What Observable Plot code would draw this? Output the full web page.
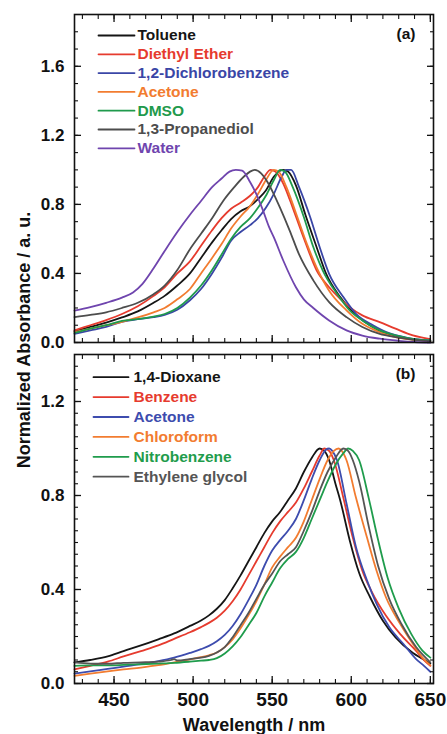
<!DOCTYPE html>
<html><head><meta charset="utf-8">
<script src="https://cdn.jsdelivr.net/npm/d3@7"></script>
<script src="https://cdn.jsdelivr.net/npm/@observablehq/plot@0.6"></script>
<style>
html,body{margin:0;padding:0;background:#fff;overflow:hidden;}
#wrap{position:relative;width:447px;height:734px;}
#ylab{position:absolute;left:-126px;top:330px;width:300px;height:20px;line-height:20px;text-align:center;transform:rotate(-90deg);font:bold 18px "Liberation Sans",Arial,sans-serif;color:#111;white-space:nowrap;z-index:5;}
</style></head>
<body><div id="wrap"><div id="ylab">Normalized Absorbance / a. u.</div></div>
<script>
// ---------- Panel (a) data: [wavelength nm, normalized absorbance] ----------
const aToluene = [[425,0.065],[435,0.09],[445,0.115],[455,0.145],[465,0.18],[475,0.23],[482,0.27],[490,0.33],[498,0.4],[505,0.49],[512,0.58],[518,0.65],[524,0.715],[530,0.76],[536,0.79],[541,0.83],[546,0.88],[551,0.96],[555,0.995],[557,1.0],[560,0.99],[565,0.91],[571,0.74],[578,0.555],[584,0.4],[593,0.263],[601,0.176],[612,0.099],[622,0.054],[632,0.03],[641,0.015],[650,0.01]];
const aDiethylEther = [[425,0.07],[435,0.1],[445,0.13],[455,0.165],[465,0.21],[475,0.27],[482,0.32],[490,0.4],[498,0.47],[505,0.56],[512,0.65],[518,0.72],[524,0.775],[530,0.81],[536,0.85],[541,0.9],[545,0.96],[549,1.0],[552,0.99],[557,0.92],[561,0.83],[565,0.73],[571,0.58],[578,0.42],[586,0.32],[593,0.253],[599,0.205],[607,0.157],[618,0.118],[628,0.08],[639,0.041],[650,0.02]];
const aDichlorobenzene = [[425,0.05],[435,0.07],[445,0.09],[455,0.12],[465,0.135],[475,0.147],[482,0.16],[490,0.19],[498,0.245],[505,0.31],[512,0.4],[518,0.49],[524,0.59],[530,0.64],[536,0.68],[541,0.72],[546,0.78],[551,0.86],[556,0.96],[559,1.0],[562,1.0],[567,0.9],[574,0.727],[580,0.553],[586,0.398],[595,0.263],[603,0.166],[614,0.099],[624,0.054],[634,0.03],[642,0.018],[650,0.012]];
const aAcetone = [[425,0.06],[435,0.08],[445,0.1],[455,0.12],[465,0.145],[475,0.175],[482,0.2],[490,0.25],[498,0.31],[505,0.4],[512,0.49],[518,0.57],[524,0.66],[530,0.73],[536,0.79],[541,0.86],[546,0.94],[551,1.0],[554,0.99],[559,0.9],[565,0.75],[572,0.57],[578,0.437],[586,0.3],[597,0.186],[607,0.108],[618,0.06],[628,0.031],[640,0.015],[650,0.008]];
const aDMSO = [[425,0.055],[435,0.08],[445,0.1],[455,0.125],[465,0.135],[475,0.15],[482,0.165],[490,0.2],[498,0.26],[505,0.33],[512,0.42],[518,0.51],[524,0.6],[530,0.67],[536,0.72],[541,0.78],[546,0.85],[551,0.94],[555,1.0],[558,0.99],[563,0.9],[570,0.727],[576,0.553],[582,0.417],[591,0.282],[599,0.186],[607,0.128],[618,0.07],[628,0.041],[640,0.02],[650,0.012]];
const aPropanediol = [[425,0.147],[435,0.16],[445,0.175],[455,0.2],[465,0.23],[475,0.28],[482,0.33],[490,0.42],[498,0.54],[505,0.63],[512,0.72],[519,0.82],[526,0.9],[532,0.96],[536,0.99],[539,1.0],[543,0.98],[547,0.93],[551,0.86],[555,0.78],[561,0.65],[567,0.51],[576,0.36],[586,0.234],[597,0.147],[607,0.09],[618,0.05],[628,0.031],[640,0.015],[650,0.008]];
const aWater = [[425,0.185],[435,0.205],[445,0.23],[455,0.26],[462,0.29],[468,0.34],[475,0.43],[482,0.53],[490,0.64],[498,0.74],[505,0.82],[512,0.9],[518,0.95],[523,0.99],[527,1.0],[531,0.995],[536,0.93],[540,0.86],[544,0.77],[548,0.67],[551,0.61],[557,0.475],[565,0.32],[570,0.25],[576,0.2],[586,0.128],[597,0.07],[607,0.04],[618,0.022],[630,0.01],[640,0.003],[650,0.0]];

// ---------- Panel (b) data ----------
const bDioxane = [[425,0.09],[435,0.1],[446,0.115],[456,0.138],[467,0.162],[478,0.188],[488,0.213],[498,0.245],[505,0.268],[510,0.29],[515,0.318],[520,0.355],[525,0.405],[530,0.46],[535,0.52],[540,0.58],[545,0.64],[550,0.69],[555,0.73],[560,0.78],[565,0.83],[570,0.9],[575,0.96],[580,1.0],[583,0.99],[586,0.95],[590,0.85],[593,0.78],[599,0.61],[605,0.47],[612,0.366],[620,0.267],[628,0.196],[639,0.13],[645,0.105],[650,0.085]];
const bBenzene = [[425,0.06],[435,0.075],[446,0.093],[456,0.115],[467,0.138],[478,0.162],[488,0.19],[498,0.218],[505,0.24],[510,0.258],[515,0.28],[520,0.31],[525,0.35],[530,0.4],[535,0.46],[540,0.52],[545,0.58],[550,0.64],[555,0.69],[560,0.73],[565,0.77],[570,0.83],[575,0.9],[580,0.97],[583,1.0],[586,0.99],[589,0.95],[595,0.79],[601,0.62],[607,0.48],[613,0.39],[622,0.288],[631,0.21],[641,0.139],[646,0.1],[650,0.075]];
const bAcetone = [[425,0.042],[435,0.052],[446,0.062],[456,0.072],[467,0.082],[478,0.095],[488,0.11],[498,0.13],[505,0.146],[510,0.16],[515,0.18],[520,0.207],[525,0.245],[530,0.295],[535,0.355],[540,0.42],[545,0.5],[550,0.566],[555,0.61],[560,0.65],[565,0.7],[570,0.78],[575,0.87],[580,0.95],[584,0.995],[586,1.0],[588,0.99],[591,0.95],[597,0.766],[603,0.58],[610,0.438],[616,0.339],[624,0.24],[633,0.168],[641,0.104],[646,0.075],[650,0.05]];
const bChloroform = [[425,0.032],[435,0.042],[446,0.052],[456,0.06],[467,0.068],[478,0.078],[488,0.09],[498,0.103],[505,0.112],[510,0.12],[515,0.132],[520,0.155],[525,0.188],[530,0.235],[535,0.29],[540,0.35],[545,0.42],[550,0.494],[555,0.54],[560,0.58],[565,0.62],[570,0.69],[575,0.78],[580,0.87],[585,0.95],[589,0.99],[592,1.0],[594,0.99],[597,0.95],[603,0.79],[610,0.62],[616,0.48],[622,0.366],[631,0.253],[639,0.168],[645,0.11],[650,0.077]];
const bNitrobenzene = [[425,0.075],[435,0.077],[446,0.077],[456,0.079],[467,0.082],[478,0.085],[488,0.088],[498,0.093],[505,0.097],[510,0.1],[515,0.108],[520,0.128],[525,0.158],[530,0.198],[535,0.248],[540,0.3],[545,0.37],[550,0.43],[555,0.49],[560,0.53],[565,0.56],[570,0.62],[575,0.7],[580,0.78],[585,0.86],[590,0.93],[595,0.98],[598,1.0],[601,0.99],[605,0.95],[611,0.79],[617,0.61],[623,0.45],[630,0.32],[638,0.21],[645,0.14],[650,0.11]];
const bEthyleneGlycol = [[425,0.09],[435,0.085],[446,0.084],[456,0.088],[467,0.09],[478,0.093],[486,0.1],[488,0.104],[490,0.098],[498,0.104],[505,0.11],[510,0.118],[515,0.132],[520,0.155],[525,0.197],[530,0.248],[535,0.3],[540,0.36],[545,0.42],[550,0.468],[555,0.52],[560,0.55],[565,0.58],[570,0.65],[575,0.73],[580,0.82],[585,0.9],[590,0.96],[595,1.0],[598,0.99],[601,0.95],[605,0.86],[611,0.67],[617,0.5],[624,0.36],[632,0.25],[641,0.155],[650,0.09]];

// ---------- names, colours, ticks ----------
const namesA = ["Toluene","Diethyl Ether","1,2-Dichlorobenzene","Acetone","DMSO","1,3-Propanediol","Water"];
const colorsA = ["#151515","#e63b2e","#3a46a6","#f27c30","#1f9a4c","#4d4d4d","#6f45ae"];
const dataA = [aToluene,aDiethylEther,aDichlorobenzene,aAcetone,aDMSO,aPropanediol,aWater];
const namesB = ["1,4-Dioxane","Benzene","Acetone","Chloroform","Nitrobenzene","Ethylene glycol"];
const colorsB = ["#151515","#e63b2e","#3d4cae","#f27c30","#1f9c4c","#555555"];
const dataB = [bDioxane,bBenzene,bAcetone,bChloroform,bNitrobenzene,bEthyleneGlycol];
const xMajor = [450,500,550,600,650];
const xMinor = d3.range(430,651,10);
const yMajorA = [0,0.4,0.8,1.2,1.6];
const yMinorA = d3.range(0,1.9,0.1);
const yMajorB = [0,0.4,0.8,1.2];
const yMinorB = d3.range(0,1.4,0.05);
const FONT = '"Liberation Sans", Arial, sans-serif';

const swatch = {draw(ctx, l){ ctx.moveTo(0,0); ctx.lineTo(l,0); }};

function rows(names, data){
  return names.flatMap((n,i)=>data[i].map(([x,y])=>({name:n, x, y})));
}

function tickAxes(yMajor, yMinor){
  const t = {fill:"none", label:null, stroke:"#111"};
  return [
    Plot.axisX({...t, anchor:"bottom", ticks:xMajor, tickSize:-7, strokeWidth:1.3}),
    Plot.axisX({...t, anchor:"bottom", ticks:xMinor, tickSize:-4, strokeWidth:1.1}),
    Plot.axisX({...t, anchor:"top", ticks:xMajor, tickSize:-7, strokeWidth:1.3}),
    Plot.axisX({...t, anchor:"top", ticks:xMinor, tickSize:-4, strokeWidth:1.1}),
    Plot.axisY({...t, anchor:"left", ticks:yMajor, tickSize:-7, strokeWidth:1.3}),
    Plot.axisY({...t, anchor:"left", ticks:yMinor, tickSize:-4, strokeWidth:1.1}),
    Plot.axisY({...t, anchor:"right", ticks:yMajor, tickSize:-7, strokeWidth:1.3}),
    Plot.axisY({...t, anchor:"right", ticks:yMinor, tickSize:-4, strokeWidth:1.1})
  ];
}

function legend(names, colors, dy0, step, lineDx, lineLen, textDx, fs){
  return names.flatMap((n,i)=>[
    Plot.vector([n], {frameAnchor:"top-left", dx:lineDx, dy:dy0+i*step, length:lineLen, anchor:"start", shape:swatch, stroke:colors[i], strokeWidth:1.8}),
    Plot.text([n], {frameAnchor:"top-left", dx:textDx, dy:dy0+i*step, text:d=>d, textAnchor:"start", lineAnchor:"middle", fill:colors[i], fontWeight:"bold", fontSize:fs})
  ]);
}

const plotA = Plot.plot({
  width:447, height:350, marginLeft:74, marginRight:14, marginTop:14, marginBottom:8,
  style:{fontFamily:FONT, background:"transparent", overflow:"visible"},
  x:{domain:[425,652]}, y:{domain:[0,1.9]},
  color:{domain:namesA, range:colorsA},
  marks:[
    Plot.line(rows(namesA,dataA), {x:"x", y:"y", z:"name", stroke:"name", strokeWidth:1.8, curve:"monotone-x"}),
    Plot.frame({stroke:"#111", strokeWidth:1.6}),
    ...tickAxes(yMajorA, yMinorA),
    Plot.axisY({anchor:"left", ticks:yMajorA, tickSize:0, tickPadding:10, tickFormat:d=>d.toFixed(1), label:null, fontSize:17, fontWeight:"bold", fill:"#111"}),
    ...legend(namesA, colorsA, 21, 18.8, 24, 36, 63, 15.5),
    Plot.text(["(a)"], {frameAnchor:"top-right", dx:-18, dy:20, text:d=>d, textAnchor:"end", lineAnchor:"middle", fontWeight:"bold", fontSize:15.5, fill:"#111"})
  ]
});

const plotB = Plot.plot({
  width:447, height:384, marginLeft:74, marginRight:14, marginTop:4, marginBottom:51,
  style:{fontFamily:FONT, background:"transparent", overflow:"visible"},
  x:{domain:[425,652]}, y:{domain:[0,1.4]},
  color:{domain:namesB, range:colorsB},
  marks:[
    Plot.line(rows(namesB,dataB), {x:"x", y:"y", z:"name", stroke:"name", strokeWidth:1.8, curve:"monotone-x"}),
    Plot.frame({stroke:"#111", strokeWidth:1.6}),
    ...tickAxes(yMajorB, yMinorB),
    Plot.axisY({anchor:"left", ticks:yMajorB, tickSize:0, tickPadding:10, tickFormat:d=>d.toFixed(1), label:null, fontSize:17, fontWeight:"bold", fill:"#111"}),
    Plot.axisX({anchor:"bottom", ticks:xMajor, tickSize:0, tickPadding:9, tickFormat:d=>String(d), label:null, fontSize:19, fontWeight:"bold", fill:"#111"}),
    Plot.text(["Wavelength / nm"], {frameAnchor:"bottom", dy:42, text:d=>d, lineAnchor:"middle", fontWeight:"bold", fontSize:18, fill:"#111"}),
    ...legend(namesB, colorsB, 22.7, 19.9, 19, 35, 59, 15.5),
    Plot.text(["(b)"], {frameAnchor:"top-right", dx:-18, dy:20, text:d=>d, textAnchor:"end", lineAnchor:"middle", fontWeight:"bold", fontSize:15.5, fill:"#111"})
  ]
});

const wrap = document.getElementById("wrap");
wrap.appendChild(plotA);
wrap.appendChild(plotB);
</script>
</body></html>
